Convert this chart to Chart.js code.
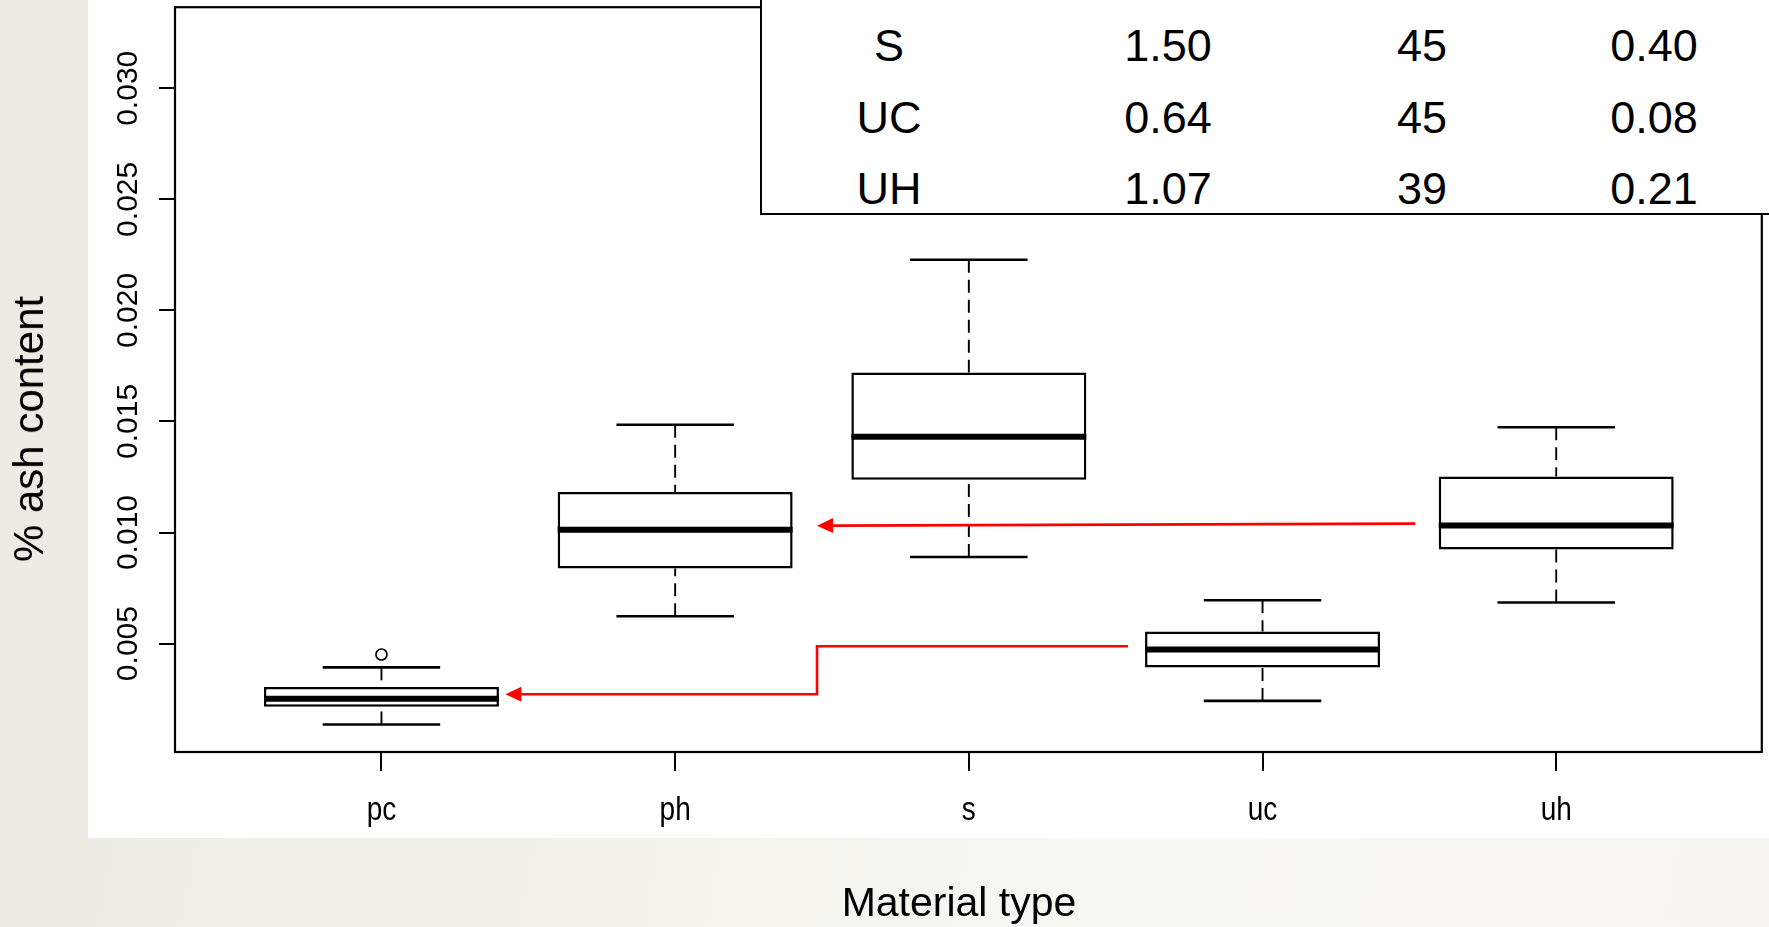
<!DOCTYPE html>
<html>
<head>
<meta charset="utf-8">
<title>% ash content by material type</title>
<script src="https://cdn.jsdelivr.net/npm/chart.js@4.4.1/dist/chart.umd.min.js"></script>
<style>
    html, body { margin: 0; padding: 0; }
    body {
        width: 1769px;
        height: 927px;
        overflow: hidden;
        position: relative;
        background: linear-gradient(100deg, #ecebe3 0%, #f1f1e9 35%, #f8f8f3 65%, #f6f5f0 100%);
        font-family: "Liberation Sans", Arial, sans-serif;
        color: #000;
    }
    #panel { position: absolute; left: 88px; top: 0; width: 1681px; height: 838px; background: #fff; }
    #chart { position: absolute; left: 0; top: 0; }
    #statsBox {
        position: absolute; left: 760px; top: -60px; width: 1100px; height: 273px;
        background: #fff; border-left: 2.5px solid #000; border-bottom: 2.5px solid #000;
    }
    .cell { position: absolute; font-size: 45px; line-height: 45px; white-space: nowrap; transform: translateX(-50%); }
    #xTitle { position: absolute; left: 959px; top: 882px; font-size: 41px; line-height: 41px; white-space: nowrap; transform: translateX(-50%); }
    #yTitle { position: absolute; left: 29px; top: 429px; font-size: 42px; line-height: 42px; white-space: nowrap; transform: translate(-50%, -50%) rotate(-90deg); }
</style>
</head>
<body>
<div id="panel"></div>
<canvas id="chart" width="1769" height="927"></canvas>
<div id="statsBox"></div>
<div id="yTitle">% ash content</div>
<div id="xTitle">Material type</div>
<script>
// 箱线图数据 (% ash content)
const categories = ['pc', 'ph', 's', 'uc', 'uh'];
const lowerWhisker = [0.00136, 0.00623, 0.00890, 0.00242, 0.00685];
const q1 = [0.00216, 0.00838, 0.01238, 0.00392, 0.00924];
const median = [0.00252, 0.01013, 0.01431, 0.00473, 0.01032];
const q3 = [0.00305, 0.01183, 0.01721, 0.00554, 0.01252];
const upperWhisker = [0.00393, 0.01485, 0.02228, 0.00695, 0.01474];

// 离群点 (category number, value)
const outlierCategory = [1];
const outlierValue = [0.00451];

// 坐标轴
const yTicks = [0.005, 0.010, 0.015, 0.020, 0.025, 0.030];
const yMin = 0.00012;
const yMax = 0.03365;
const xMin = 0.297;
const xMax = 5.7;

// 右上角表格
const tableMaterial = ['S', 'UC', 'UH'];
const tableColA = ['1.50', '0.64', '1.07'];
const tableColB = ['45', '45', '39'];
const tableColC = ['0.40', '0.08', '0.21'];

// 红色箭头 (x: category position, y: ash content)
const arrowUhX = [4.52, 2.483];
const arrowUhY = [0.01040, 0.01031];
const arrowUcX = [3.542, 2.483, 2.483, 1.422];
const arrowUcY = [0.00488, 0.00488, 0.00272, 0.00272];

/**
 * 填充表格
 */
function buildTable() {
    const colCenters = [889, 1168, 1422, 1654];
    const baselines = [60.8, 132.6, 204.4];
    const cols = [tableMaterial, tableColA, tableColB, tableColC];
    cols.forEach((col, c) => {
        col.forEach((text, r) => {
            const el = document.createElement('div');
            el.className = 'cell';
            el.textContent = text;
            el.style.left = colCenters[c] + 'px';
            el.style.top = (baselines[r] - 38.1) + 'px';
            document.body.appendChild(el);
        });
    });
}

function strokeLine(ctx, x1, y1, x2, y2) {
    ctx.beginPath();
    ctx.moveTo(x1, y1);
    ctx.lineTo(x2, y2);
    ctx.stroke();
}

function drawArrow(ctx, xs, ys, x, y) {
    const pts = xs.map((v, i) => [x.getPixelForValue(v), y.getPixelForValue(ys[i])]);
    const tip = pts[pts.length - 1];
    const prev = pts[pts.length - 2];
    const len = Math.hypot(tip[0] - prev[0], tip[1] - prev[1]);
    const ux = (tip[0] - prev[0]) / len, uy = (tip[1] - prev[1]) / len;
    const headLen = 16, headHalf = 7.5;
    const base = [tip[0] - ux * headLen, tip[1] - uy * headLen];

    ctx.strokeStyle = '#ff0000';
    ctx.fillStyle = '#ff0000';
    ctx.lineWidth = 2.6;
    ctx.beginPath();
    ctx.moveTo(pts[0][0], pts[0][1]);
    for (let i = 1; i < pts.length - 1; i++) ctx.lineTo(pts[i][0], pts[i][1]);
    ctx.lineTo(base[0], base[1]);
    ctx.stroke();

    ctx.beginPath();
    ctx.moveTo(tip[0], tip[1]);
    ctx.lineTo(base[0] - uy * headHalf, base[1] + ux * headHalf);
    ctx.lineTo(base[0] + uy * headHalf, base[1] - ux * headHalf);
    ctx.closePath();
    ctx.fill();
}

// 须线、中位数、边框、刻度标签和箭头
const boxPlotPlugin = {
    id: 'boxPlotParts',
    afterDraw(chart) {
        const { ctx, chartArea, scales: { x, y } } = chart;
        const unit = x.getPixelForValue(2) - x.getPixelForValue(1);
        const boxHalf = unit * 0.4;
        const capHalf = unit * 0.2;
        ctx.save();
        ctx.strokeStyle = '#000';
        ctx.lineCap = 'butt';

        categories.forEach((c, i) => {
            const px = x.getPixelForValue(i + 1);
            const yUp = y.getPixelForValue(upperWhisker[i]);
            const yLo = y.getPixelForValue(lowerWhisker[i]);
            ctx.setLineDash([13, 7]);
            ctx.lineWidth = 1.9;
            strokeLine(ctx, px, yUp, px, y.getPixelForValue(q3[i]));
            strokeLine(ctx, px, yLo, px, y.getPixelForValue(q1[i]));
            ctx.setLineDash([]);
            ctx.lineWidth = 2.6;
            strokeLine(ctx, px - capHalf, yUp, px + capHalf, yUp);
            strokeLine(ctx, px - capHalf, yLo, px + capHalf, yLo);
            const ym = y.getPixelForValue(median[i]);
            ctx.lineWidth = 6;
            strokeLine(ctx, px - boxHalf, ym, px + boxHalf, ym);
        });

        // 绘图区边框
        ctx.lineWidth = 2.2;
        ctx.strokeRect(chartArea.left, chartArea.top, chartArea.right - chartArea.left, chartArea.bottom - chartArea.top);

        // y 轴刻度标签 (旋转)
        ctx.fillStyle = '#000';
        ctx.font = '30px "Liberation Sans", Arial, sans-serif';
        ctx.textAlign = 'center';
        ctx.textBaseline = 'alphabetic';
        y.ticks.forEach(t => {
            ctx.save();
            ctx.translate(chartArea.left - 38.3, y.getPixelForValue(t.value));
            ctx.rotate(-Math.PI / 2);
            ctx.fillText(t.value.toFixed(3), 0, 0);
            ctx.restore();
        });

        // x 轴刻度标签
        ctx.font = '28px "Liberation Sans", Arial, sans-serif';
        x.ticks.forEach(t => {
            ctx.save();
            ctx.translate(x.getPixelForValue(t.value), chartArea.bottom + 68);
            ctx.scale(1, 1.18);
            ctx.fillText(categories[t.value - 1], 0, 0);
            ctx.restore();
        });

        drawArrow(ctx, arrowUhX, arrowUhY, x, y);
        drawArrow(ctx, arrowUcX, arrowUcY, x, y);
        ctx.restore();
    }
};

/**
 * 初始化箱线图
 */
function initBoxChart() {
    const ctx = document.getElementById('chart').getContext('2d');
    new Chart(ctx, {
        type: 'bar',
        data: {
            datasets: [
                {
                    type: 'bar',
                    label: 'IQR',
                    data: categories.map((c, i) => ({ x: i + 1, y: [q1[i], q3[i]] })),
                    backgroundColor: '#ffffff',
                    borderColor: '#000000',
                    borderWidth: 2.5,
                    borderSkipped: false,
                    barPercentage: 0.8,
                    categoryPercentage: 1.0
                },
                {
                    type: 'scatter',
                    label: 'outliers',
                    data: outlierCategory.map((c, i) => ({ x: c, y: outlierValue[i] })),
                    pointStyle: 'circle',
                    pointRadius: 5.5,
                    pointBorderWidth: 1.7,
                    pointBackgroundColor: 'rgba(0,0,0,0)',
                    pointBorderColor: '#000000'
                }
            ]
        },
        options: {
            responsive: false,
            animation: false,
            events: [],
            layout: { padding: { left: 115, top: 6, right: 7, bottom: 115 } },
            plugins: {
                legend: { display: false },
                tooltip: { enabled: false },
                title: { display: false }
            },
            scales: {
                x: {
                    type: 'linear',
                    position: 'bottom',
                    min: xMin,
                    max: xMax,
                    bounds: 'data',
                    offset: false,
                    afterBuildTicks: s => { s.ticks = categories.map((c, i) => ({ value: i + 1 })); },
                    afterFit: s => { s.height = 60; },
                    ticks: { display: false },
                    border: { display: false },
                    grid: {
                        offset: false,
                        drawOnChartArea: false,
                        drawTicks: true,
                        tickLength: 19,
                        tickWidth: 2,
                        tickColor: '#000',
                        lineWidth: 2
                    }
                },
                y: {
                    type: 'linear',
                    min: yMin,
                    max: yMax,
                    bounds: 'data',
                    afterBuildTicks: s => { s.ticks = yTicks.map(v => ({ value: v })); },
                    afterFit: s => { s.width = 60; },
                    ticks: { display: false },
                    border: { display: false },
                    grid: {
                        drawOnChartArea: false,
                        drawTicks: true,
                        tickLength: 16,
                        tickWidth: 2,
                        tickColor: '#000',
                        lineWidth: 2
                    }
                }
            }
        },
        plugins: [boxPlotPlugin]
    });
}

buildTable();
initBoxChart();
</script>
</body>
</html>
